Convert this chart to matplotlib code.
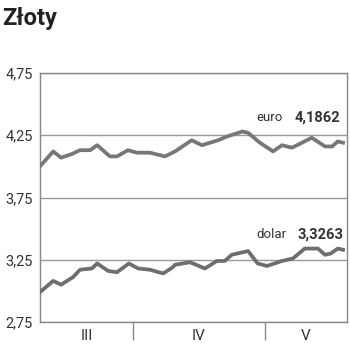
import numpy as np
import matplotlib
matplotlib.use('Agg')
import matplotlib.pyplot as plt

plt.rcParams['font.family'] = ['Roboto', 'DejaVu Sans']

# days counted from ~10 March
euro_x = [0, 3, 4.8, 7.3, 9.1, 11.4, 13, 15.9, 17.5, 20, 22, 25, 28.4, 30.7,
          34.5, 36.8, 40.5, 42.5, 46, 47.3, 50, 53, 55, 57.3, 61.8, 64.8,
          66.4, 67.7, 68.9]
euro_y = [4.00, 4.12, 4.07, 4.10, 4.13, 4.13, 4.17, 4.08, 4.08, 4.13, 4.11,
          4.11, 4.08, 4.12, 4.21, 4.17, 4.21, 4.24, 4.28, 4.27, 4.19, 4.12,
          4.17, 4.15, 4.23, 4.16, 4.16, 4.20, 4.19]

usd_x = [0, 3, 4.8, 7.5, 9.1, 11.8, 13, 15.5, 17.5, 20.2, 22.3, 25, 28,
         30.2, 30.7, 34.1, 37.5, 40.2, 42, 43.6, 47.3, 49.5, 51.6, 55, 57.5,
         60.2, 63.2, 64.8, 66.1, 67.7, 68.9]
usd_y = [2.99, 3.08, 3.05, 3.11, 3.17, 3.18, 3.22, 3.16, 3.15, 3.22, 3.18,
         3.17, 3.14, 3.19, 3.21, 3.23, 3.18, 3.24, 3.24, 3.29, 3.32, 3.22,
         3.20, 3.24, 3.26, 3.34, 3.34, 3.29, 3.30, 3.34, 3.33]

month_bounds = [21.1, 51.1]
month_names = ['III', 'IV', 'V']
x_end = 69.8
yticks = [2.75, 3.25, 3.75, 4.25, 4.75]

fig = plt.figure(figsize=(3.5, 3.54), dpi=100)
ax = fig.add_axes([40/350, 32/354, 307/350, 249/354])

ax.plot(euro_x, euro_y, color='#777777', lw=2.7, solid_joinstyle='round', zorder=3)
ax.plot(usd_x, usd_y, color='#6e6e6e', lw=2.7, solid_joinstyle='round', zorder=3)

ax.set_xlim(0, x_end)
ax.set_ylim(2.75, 4.75)
ax.set_yticks(yticks)
ax.set_yticklabels([('%.2f' % v).replace('.', ',') for v in yticks])
ax.yaxis.grid(True, color='#999999', lw=1)
ax.tick_params(axis='y', length=0, pad=5, labelsize=10.5, labelcolor='#333333')

ax.set_xticks(month_bounds)
ax.set_xticklabels([])
ax.tick_params(axis='x', which='major', length=13, width=1, color='#888888', direction='out')
edges = [0] + month_bounds + [x_end]
centers = [(edges[i] + edges[i+1]) / 2 for i in range(3)]
ax.set_xticks(centers, minor=True)
ax.set_xticklabels(month_names, minor=True)
ax.tick_params(axis='x', which='minor', length=0, pad=5, labelsize=11, labelcolor='#333333')

for s in ax.spines.values():
    s.set_color('#888888')
    s.set_linewidth(1)

ax.text(55.3, 4.39, 'euro', ha='right', va='center', fontsize=9.5, color='#333333')
ax.text(68.3, 4.39, '4,1862', ha='right', va='center', fontsize=10.5, fontweight='bold', color='#333333')
ax.text(56.0, 3.45, 'dolar', ha='right', va='center', fontsize=9.5, color='#333333')
ax.text(69.0, 3.45, '3,3263', ha='right', va='center', fontsize=10.5, fontweight='bold', color='#333333')

fig.text(2/350, 1 - 18/354, 'Złoty', fontsize=17, fontweight='bold', color='#222222', va='center', ha='left')

fig.savefig('out.png', dpi=100)
